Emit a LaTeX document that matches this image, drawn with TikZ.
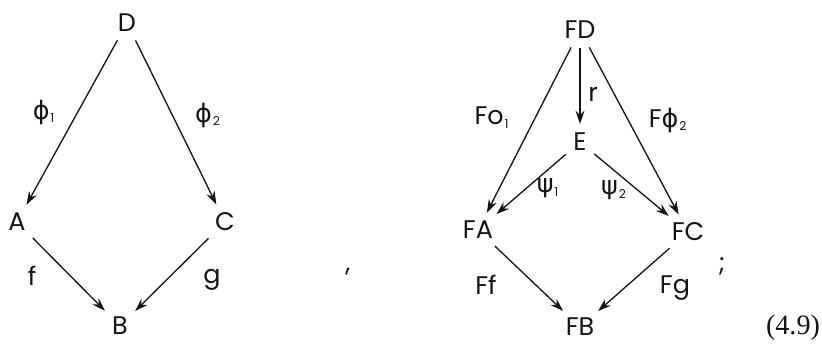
\documentclass[tikz,border=0pt]{standalone}
\usepackage{fontspec}
\setmainfont{Poppins}
\newfontfamily\greekfont{DejaVu Sans}
\newfontfamily\eqfont{Liberation Serif}
\usepackage{tikz}
\usetikzlibrary{arrows.meta}
\definecolor{InkBlack}{HTML}{141414}
\newcommand{\gphi}{{\greekfont ϕ}}
\newcommand{\gpsi}{{\greekfont ψ}}
\newcommand{\idx}[1]{\textsubscript{\kern0.5pt\scriptsize#1}}

\begin{document}
\begin{tikzpicture}[x=0.02cm, y=-0.02cm,
    every node/.style={font=\fontsize{14.5}{16}\selectfont, text=InkBlack},
    obj/.style={inner sep=1.5pt},
    lbl/.style={inner sep=0pt},
    mor/.style={draw=InkBlack, line width=0.75pt, shorten <=3.5pt, shorten >=3.5pt,
      -{Stealth[length=7.5pt, width=5pt]}}]
  \useasboundingbox (0,0) rectangle (822,345);
  \begin{scope}
    \node[obj] (D) at (127,23) {D};
    \node[obj] (A) at (17,222) {A};
    \node[obj] (C) at (225,222) {C};
    \node[obj] (B) at (120,326) {B};
    \draw[mor] (D) -- (A);
    \draw[mor] (D) -- (C);
    \draw[mor] (A) -- (B);
    \draw[mor] (C) -- (B);
    \node[lbl] (phione) at (44,112) {\gphi\idx{1}};
    \node[lbl] (phitwo) at (208,115) {\gphi\idx{2}};
    \node[lbl] (f) at (32,276) {f};
    \node[lbl] (g) at (212,280) {g};
  \end{scope}
  \node[lbl] (comma) at (348,272) {,};
  \begin{scope}
    \node[obj] (FD) at (580,30) {FD};
    \node[obj] (E) at (580,142) {E};
    \node[obj] (FA) at (478,230) {FA};
    \node[obj] (FC) at (688,232) {FC};
    \node[obj] (FB) at (580,327) {FB};
    \draw[mor] (FD) -- (FA);
    \draw[mor] (FD) -- (E);
    \draw[mor] (FD) -- (FC);
    \draw[mor] (E) -- (FA);
    \draw[mor] (E) -- (FC);
    \draw[mor] (FA) -- (FB);
    \draw[mor] (FC) -- (FB);
    \node[lbl] (Foone) at (492,118) {Fo\idx{1}};
    \node[lbl] (r) at (593,94) {r};
    \node[lbl] (Fphitwo) at (668,120) {F\gphi\idx{2}};
    \node[lbl] (psione) at (548,188) {\gpsi\idx{1}};
    \node[lbl] (psitwo) at (614,190) {\gpsi\idx{2}};
    \node[lbl] (Ff) at (486,285) {Ff};
    \node[lbl] (Fg) at (675,288) {Fg};
  \end{scope}
  \node[lbl] (semi) at (722,266) {;};
  \node[lbl, font=\eqfont\fontsize{16}{18}\selectfont] (eqno) at (793,328) {(4.9)};
\end{tikzpicture}
\end{document}
